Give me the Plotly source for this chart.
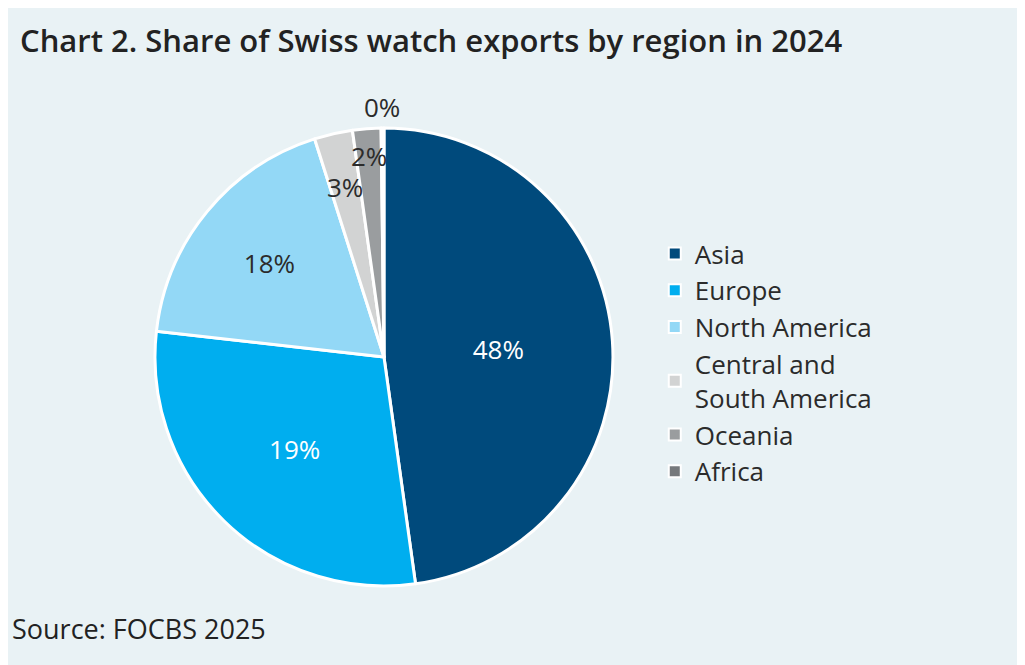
import math
import plotly.graph_objects as go

regions = ["Asia", "Europe", "North America", "Central and<br>South America", "Oceania", "Africa"]
shares = [47.8, 29.0, 18.3, 2.7, 2.0, 0.2]
share_labels = ["48%", "19%", "18%", "3%", "2%", "0%"]

colours = ["#004A7C", "#00AEEF", "#93D8F6", "#D2D3D3", "#9A9D9F", "#76797C"]
text_colours = ["white", "white", "#2B2B2B", "#2B2B2B", "#2B2B2B", "#2B2B2B"]
# small slices get their labels placed by hand (radial fraction of the radius)
label_radius = [None, None, None, 0.76, 0.88, 1.09]

bg = "#E9F2F5"
W, H = 1025, 665
dom_x = [0.1434, 0.5902]
dom_y = [0.1308, 0.8195]

positions = ["inside" if r is None else "none" for r in label_radius]

fig = go.Figure()
fig.add_trace(go.Pie(
    labels=regions,
    values=shares,
    text=share_labels,
    textinfo="text",
    textposition=positions,
    insidetextorientation="horizontal",
    textfont=dict(family="Open Sans", size=26, color=text_colours),
    marker=dict(colors=colours, line=dict(color="white", width=3)),
    sort=False,
    direction="clockwise",
    rotation=0,
    hoverinfo="label+text",
    domain=dict(x=dom_x, y=dom_y),
))

# labels for the thin slices, at the middle angle of each slice
cx = (dom_x[0] + dom_x[1]) / 2
cy = (dom_y[0] + dom_y[1]) / 2
R = (dom_y[1] - dom_y[0]) * H / 2
total = sum(shares)
annots = []
cum = 0
for val, lab, col, rf in zip(shares, share_labels, text_colours, label_radius):
    mid = (cum + val / 2) / total * 2 * math.pi
    cum += val
    if rf is None:
        continue
    annots.append(dict(
        text=lab, xref="paper", yref="paper",
        x=cx + rf * R * math.sin(mid) / W,
        y=cy + rf * R * math.cos(mid) / H,
        xanchor="center", yanchor="middle", showarrow=False,
        font=dict(family="Open Sans", size=26, color=col),
    ))

annots += [
    dict(text="Chart 2. Share of Swiss watch exports by region in 2024",
         xref="paper", yref="paper", x=0.0102, y=0.952,
         xanchor="left", yanchor="middle", showarrow=False,
         font=dict(family="Open Sans", size=31, color="#222222", weight=600)),
    dict(text="Source: FOCBS 2025",
         xref="paper", yref="paper", x=0.0024, y=0.067,
         xanchor="left", yanchor="middle", showarrow=False,
         font=dict(family="Open Sans", size=27, color="#222222")),
]

fig.update_layout(
    width=W,
    height=H,
    margin=dict(l=0, r=0, t=0, b=0),
    paper_bgcolor=bg,
    plot_bgcolor=bg,
    font=dict(family="Open Sans", color="#2B2B2B"),
    uniformtext=dict(minsize=26, mode="show"),
    showlegend=True,
    legend=dict(
        x=0.631, y=0.666, xanchor="left", yanchor="top",
        font=dict(size=26, color="#2B2B2B"),
        bgcolor="rgba(0,0,0,0)",
        traceorder="normal",
        itemsizing="constant",
    ),
    annotations=annots,
)

fig.write_html("out.html")
